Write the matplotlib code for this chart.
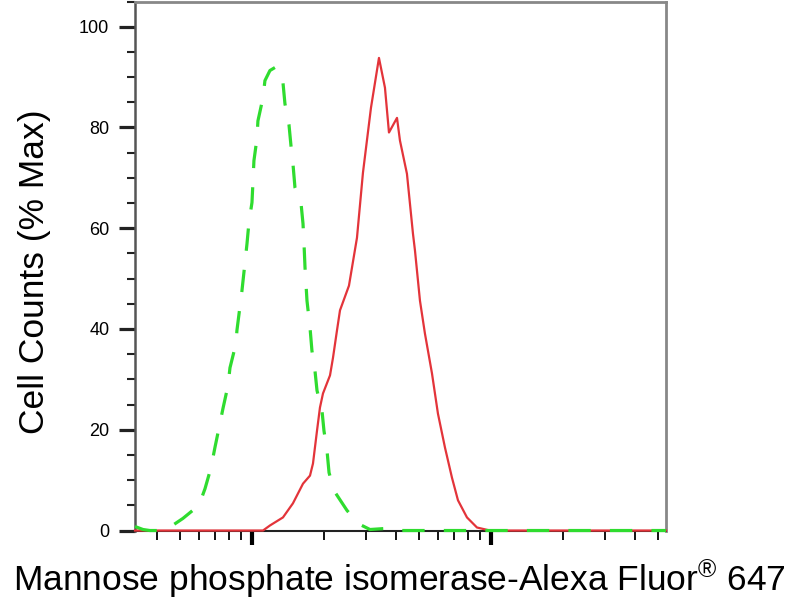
import matplotlib
matplotlib.use("Agg")
import matplotlib.pyplot as plt
from matplotlib.ticker import LogLocator, MultipleLocator, NullFormatter

plt.rcParams['font.family'] = ['Liberation Sans', 'DejaVu Sans']
plt.rcParams['mathtext.fontset'] = 'custom'
plt.rcParams['mathtext.rm'] = 'Liberation Sans'
plt.rcParams['mathtext.it'] = 'Liberation Sans'

# control (green, dashed) histogram
ctrl_x = [324, 350, 374, 412, 445, 514, 600, 636, 674, 700, 728, 756, 794, 809,
          857, 865, 908, 935, 953, 971, 1000, 1010, 1019, 1049, 1059, 1112, 1133,
          1189, 1248, 1297, 1335, 1348, 1374, 1428, 1456, 1484, 1513, 1603, 1635,
          1651, 1667, 1699, 1749, 1782, 1835, 1871, 1963, 2001, 2060, 2101, 2204,
          2497, 2776, 3117, 3601, 4161, 53990]
ctrl_y = [0.8, 0.2, 0, 0, 0.4, 2.4, 5.0, 8.3, 12.5, 16.5, 20.4, 24.2, 28.8, 32.3,
          37.1, 39.7, 47.6, 53.2, 56.9, 61.1, 65.1, 69.4, 73.4, 77.8, 81.3, 85.9,
          89.3, 91.3, 91.9, 91.5, 90.3, 88.9, 84.7, 80.6, 76.4, 72.8, 68.1, 65.1,
          60.9, 56.9, 52.2, 45.6, 40.3, 35.7, 31.7, 27.8, 23.8, 19.8, 15.9, 11.5,
          7.9, 4.0, 1.4, 0.2, 0.4, 0, 0]

# stained sample (red, solid)
mpi_x = [324, 1112, 1189, 1348, 1484, 1635, 1749, 1800, 1871, 1925, 1982, 2121,
         2183, 2268, 2335, 2546, 2750, 2913, 3147, 3399, 3601, 3743, 4044, 4161,
         4451, 4717, 4808, 5046, 5293, 5664, 6000, 6418, 6867, 7277, 7936, 8738,
         9904, 53990]
mpi_y = [0, 0, 1.0, 2.6, 5.4, 9.3, 10.9, 13.3, 19.8, 24.4, 27.2, 30.8, 34.3,
         39.7, 43.7, 48.6, 58.1, 71.0, 83.9, 93.8, 87.9, 79.0, 81.9, 77.4, 70.8,
         58.9, 55.6, 45.6, 39.1, 31.2, 23.2, 16.5, 10.5, 6.0, 2.6, 0.6, 0, 0]

y_ticks = [0, 20, 40, 60, 80, 100]

fig = plt.figure(figsize=(8, 6), dpi=100)
ax = fig.add_axes([0.16875, 0.1158, 0.66375, 0.8817])

ax.plot(mpi_x, mpi_y, color='#e3343a', linewidth=1.6, clip_on=False, zorder=3,
        solid_joinstyle='round')
ax.plot(ctrl_x, ctrl_y, color='#2fdc2f', linewidth=2.3, linestyle=(0, (7, 6)),
        clip_on=False, zorder=4)

ax.set_xscale('log')
ax.set_xlim(324, 54000)
ax.set_ylim(0, 105)

ax.xaxis.set_major_locator(LogLocator(base=10, numticks=10))
ax.xaxis.set_minor_locator(LogLocator(base=10, subs=range(2, 10), numticks=20))
ax.xaxis.set_major_formatter(NullFormatter())
ax.xaxis.set_minor_formatter(NullFormatter())
ax.set_yticks(y_ticks)
ax.yaxis.set_minor_locator(MultipleLocator(5))

ax.tick_params(axis='x', which='major', direction='out', length=10, width=3, color='black')
ax.tick_params(axis='x', which='minor', direction='out', length=6.5, width=1.3, color='black')
ax.tick_params(axis='y', which='major', direction='out', length=11.5, width=2.3,
               color='#222222', labelsize=13, pad=7)
ax.tick_params(axis='y', which='minor', direction='out', length=6, width=1.5, color='#222222')

ax.spines['left'].set_color('#555555')
ax.spines['left'].set_linewidth(1.8)
ax.spines['bottom'].set_color('#222222')
ax.spines['bottom'].set_linewidth(1.5)
for side in ('top', 'right'):
    ax.spines[side].set_color('#888888')
    ax.spines[side].set_linewidth(2)

fig.text(35 / 800, 0.548, 'Cell Counts (% Max)', rotation=90, fontsize=25.5,
         ha='center', va='center')
fig.text(0.4994, 0.015, 'Mannose phosphate isomerase-Alexa Fluor$^{®}$ 647',
         fontsize=25.5, ha='center', va='baseline')

fig.savefig('out.png', dpi=100)
